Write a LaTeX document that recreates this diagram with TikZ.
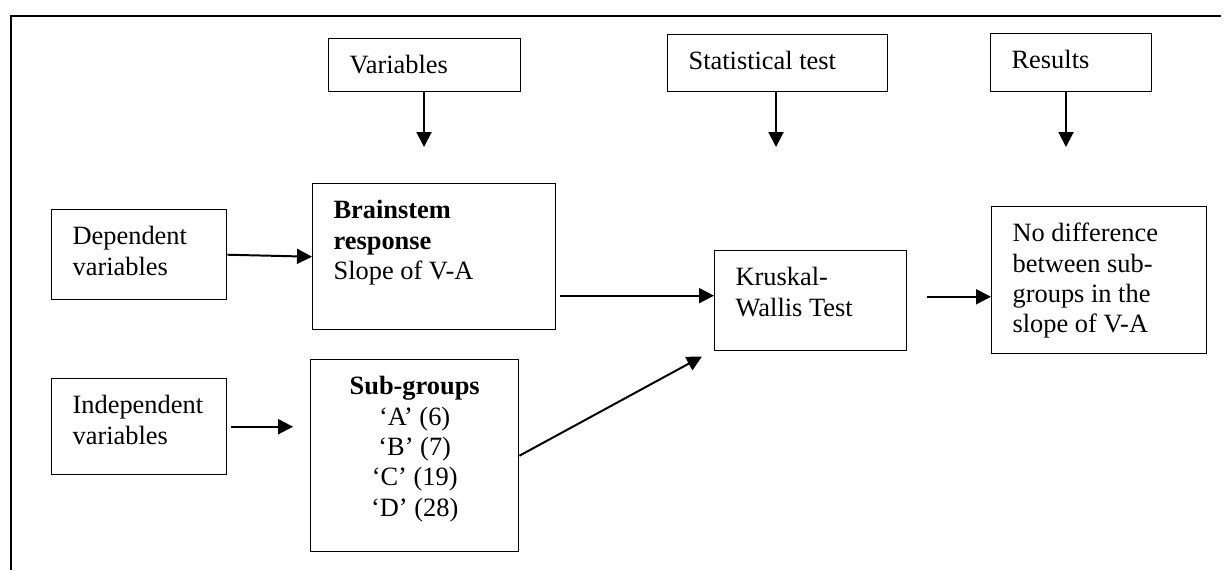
\documentclass[tikz,border=0pt]{standalone}
\usepackage{fontspec}
\setmainfont{Liberation Serif}
\usepackage{tikz}
\usetikzlibrary{arrows.meta}
\newdimen\pxu
\pxu=0.4545pt
% box text: width (px), height (px), lines
\newcommand{\stbody}[3]{\parbox[t][\dimexpr #2\pxu-12.5pt\relax][t]{\dimexpr #1\pxu-19pt\relax}{\strut#3}}
\tikzset{
  stbox/.style={
    draw,
    line width=0.65pt,
    anchor=north west,
    inner xsep=9.5pt,
    inner ysep=6.25pt
  },
  stflow/.style={-{Triangle[length=6.8pt,width=6.8pt]}, line width=0.9pt},
  stframe/.style={line width=1pt}
}
\begin{document}
\begin{tikzpicture}[x=0.4545pt, y=-0.4545pt, font=\fontsize{12pt}{13.8pt}\selectfont]
  \useasboundingbox (0,0) rectangle (1225,570);
  \draw[stframe] (10,16) -- (1221,16);
  \draw[stframe] (11,16) -- (11,570);

  \node[stbox] (vars) at (328,38) {\stbody{192}{53}{Variables}};
  \node[stbox] (stat) at (667,34) {\stbody{220}{57}{Statistical test}};
  \node[stbox] (res) at (990,33) {\stbody{161}{58}{Results}};
  \coordinate (varsTip) at (424,147);
  \coordinate (statTip) at (776,147);
  \coordinate (resTip) at (1066,147);

  \node[stbox] (dep) at (51,209) {\stbody{175}{90}{Dependent\\variables}};
  \node[stbox] (indep) at (51,378) {\stbody{175}{96}{Independent\\variables}};
  \node[stbox] (brain) at (312,183) {\stbody{243}{146}{\textbf{Brainstem}\\\textbf{response}\\Slope of V-A}};
  \node[stbox] (sub) at (310,359) {\stbody{208}{192}{\centering\textbf{Sub-groups}\\‘A’ (6)\\‘B’ (7)\\‘C’ (19)\\‘D’ (28)}};
  \node[stbox] (krus) at (714,250) {\stbody{192}{100}{Kruskal-\\Wallis Test}};
  \node[stbox] (nodiff) at (991,206) {\stbody{215}{147}{No difference\\between sub-\\groups in the\\slope of V-A}};

  \draw[stflow] (vars.south -| varsTip) -- (varsTip);
  \draw[stflow] (stat.south -| statTip) -- (statTip);
  \draw[stflow] (res.south -| resTip) -- (resTip);
  \draw[stflow] (dep.east) -- (brain.west);
  \draw[stflow] ([xshift=1.8pt]indep.east) -- ([xshift=-7.7pt]indep.east -| sub.west);
  \draw[stflow] ([xshift=1.4pt,yshift=2.3pt]brain.east |- krus.west) -- ([yshift=2.3pt]krus.west);
  \draw[stflow] (sub.east) -- ([xshift=-5.5pt,yshift=-2.3pt]krus.south west);
  \draw[stflow] ([xshift=9.1pt,yshift=1.8pt]krus.east) -- ([yshift=1.8pt]krus.east -| nodiff.west);
\end{tikzpicture}
\end{document}
